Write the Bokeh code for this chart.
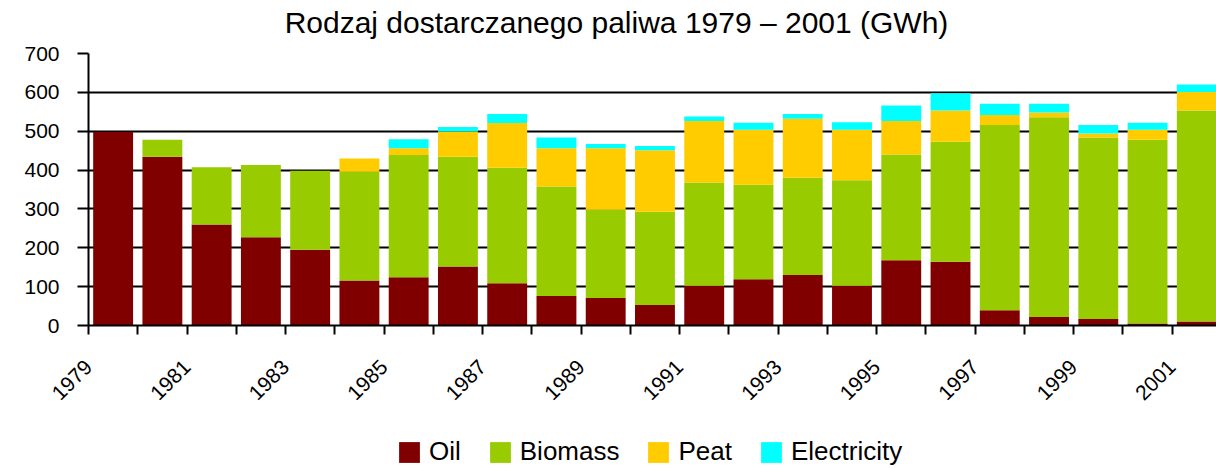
from math import pi
from bokeh.plotting import figure
from bokeh.layouts import column
from bokeh.models import (ColumnDataSource, FixedTicker, Legend, LegendItem,
                          Label, Range1d)
from bokeh.embed import file_html
from bokeh.resources import INLINE

title_text = "Rodzaj dostarczanego paliwa 1979 – 2001 (GWh)"

years = ["1979", "1980", "1981", "1982", "1983", "1984", "1985", "1986",
         "1987", "1988", "1989", "1990", "1991", "1992", "1993", "1994",
         "1995", "1996", "1997", "1998", "1999", "2000", "2001"]
tick_labels = ["1979", "1981", "1983", "1985", "1987", "1989", "1991",
               "1993", "1995", "1997", "1999", "2001"]
y_ticks = [0, 100, 200, 300, 400, 500, 600, 700]

oil = [498, 434, 260, 227, 195, 116, 124, 152, 109, 76, 71, 53,
       102, 119, 130, 102, 168, 164, 39, 22, 17, 5, 10]
biomass = [0, 44, 147, 186, 203, 280, 315, 282, 297, 282, 227, 240,
           266, 243, 250, 272, 272, 309, 477, 514, 467, 473, 543]
peat = [0, 0, 0, 0, 0, 34, 17, 65, 115, 98, 158, 158,
        158, 142, 152, 130, 86, 80, 26, 12, 10, 26, 48]
electricity = [0, 0, 0, 0, 0, 0, 23, 12, 23, 28, 11, 11,
               12, 18, 12, 19, 40, 45, 29, 23, 22, 18, 19]

series = ["Oil", "Biomass", "Peat", "Electricity"]
colors = ["#800000", "#99CC00", "#FFCC00", "#00FFFF"]

FONT = "Liberation Sans"
W = 1216

# bars sit between integer boundaries; ticks mark the boundaries
xpos = [i + 0.5 for i in range(len(years))]
source = ColumnDataSource(data=dict(x=xpos, year=years, Oil=oil, Biomass=biomass,
                                    Peat=peat, Electricity=electricity))


def blank(height):
    f = figure(width=W, height=height, x_range=Range1d(0, 22.9),
               y_range=Range1d(0, 1), x_axis_type=None, y_axis_type=None,
               output_backend="svg", toolbar_location=None,
               min_border_left=0, min_border_right=0,
               min_border_top=0, min_border_bottom=0)
    f.outline_line_color = None
    f.background_fill_color = "white"
    f.border_fill_color = "white"
    return f


# ---- title strip (its frame is aligned with the chart frame, which starts 88px in)
head = blank(40)
head.add_layout(Label(x=528, y=18, x_units="screen", y_units="screen",
                      text=title_text, text_align="center",
                      text_baseline="alphabetic", text_font=FONT,
                      text_font_size="30px", text_color="black"))

# ---- main chart
p = figure(width=W, height=390, x_range=(0, 22.9), y_range=(0, 700),
           output_backend="svg", toolbar_location=None,
           min_border_left=88, min_border_right=0,
           min_border_top=13, min_border_bottom=105)
p.vbar_stack(series, x="x", width=0.81, color=colors, line_color=None,
             source=source)

p.outline_line_color = None
p.background_fill_color = "white"
p.border_fill_color = "white"

p.yaxis.ticker = FixedTicker(ticks=y_ticks)
p.ygrid.ticker = FixedTicker(ticks=y_ticks)
p.ygrid.grid_line_color = "black"
p.ygrid.grid_line_width = 2
p.xgrid.visible = False
p.yaxis.axis_line_color = "black"
p.yaxis.axis_line_width = 2
p.yaxis.major_tick_line_color = "black"
p.yaxis.major_tick_line_width = 2
p.yaxis.major_tick_in = 0
p.yaxis.major_tick_out = 11
p.yaxis.minor_tick_line_color = None
p.yaxis.major_label_standoff = 18
p.yaxis.major_label_text_font = FONT
p.yaxis.major_label_text_font_size = "21px"
p.yaxis.major_label_text_color = "black"

boundaries = list(range(len(years)))
overrides = {}
for i in boundaries:
    overrides[i] = tick_labels[i // 2] if i % 2 == 0 else ""
xa = p.xaxis[0]
xa.ticker = FixedTicker(ticks=boundaries)
xa.major_label_overrides = overrides
xa.major_label_orientation = pi / 4
xa.axis_line_color = "black"
xa.axis_line_width = 2
xa.major_tick_line_color = "black"
xa.major_tick_line_width = 2
xa.major_tick_in = 0
xa.major_tick_out = 9
xa.minor_tick_line_color = None
xa.major_label_standoff = 29
xa.major_label_text_font = FONT
xa.major_label_text_font_size = "21px"
xa.major_label_text_color = "black"

# ---- legend strip (same series kept out of view, only the legend shows)
foot = blank(38)
foot.x_range = Range1d(-100, -99)
foot.y_range = Range1d(-2, -1)
leg_r = foot.vbar_stack(series, x="x", width=0.81, color=colors,
                        line_color=None, source=source)
items = [LegendItem(label=name, renderers=[r]) for name, r in zip(series, leg_r)]
legend = Legend(items=items, orientation="horizontal", location=(308, 1),
                glyph_width=26, glyph_height=26, label_standoff=7, spacing=26,
                padding=0, margin=0, border_line_color=None,
                background_fill_alpha=0, label_text_font=FONT,
                label_text_font_size="26px", label_text_color="black")
foot.add_layout(legend)

layout = column(head, p, foot, spacing=0)

open("out.html", "w").write(file_html(layout, INLINE))
